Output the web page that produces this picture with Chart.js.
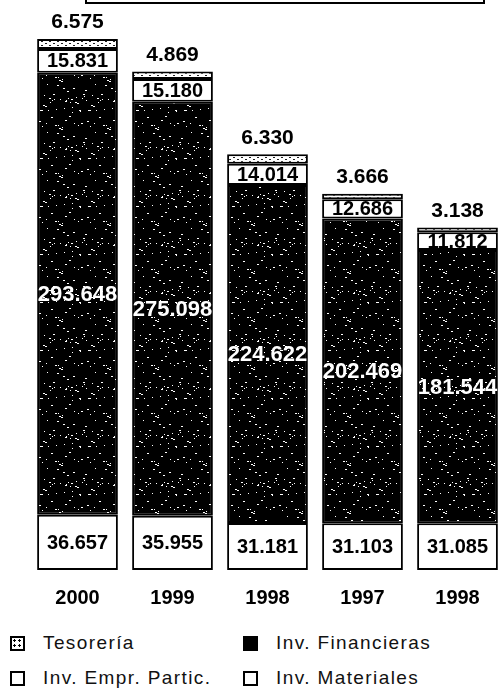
<!DOCTYPE html>
<html>
<head>
<meta charset="utf-8">
<script src="https://cdn.jsdelivr.net/npm/chart.js@4/dist/chart.umd.min.js"></script>
<style>
  body { margin: 0; background: #fff; overflow: hidden; width: 498px; height: 690px; position: relative; }
  #marco { position: absolute; left: 85px; top: -12px; width: 396px; height: 12px; border: 2px solid #000; }
  #grafico { position: absolute; left: 0; top: 0; }
  .leyenda { position: absolute; font-family: 'Liberation Sans', Arial, sans-serif; font-size: 19px; letter-spacing: 1.4px; color: #111; line-height: 20px; }
  .caja { position: absolute; width: 11px; height: 11px; border: 2px solid #000; background: #fff; }
</style>
</head>
<body>
<div id="marco"></div>
<canvas id="grafico" width="510" height="618"></canvas>
<div id="leyendas"></div>
<script>
// valores en miles
var anios = ['2000', '1999', '1998', '1997', '1998'];
var tesoreria = [6575, 4869, 6330, 3666, 3138];
var invEmprPartic = [15831, 15180, 14014, 12686, 11812];
var invFinancieras = [293648, 275098, 224622, 202469, 181544];
var invMateriales = [36657, 35955, 31181, 31103, 31085];

function formatear(v) {
    return String(v).replace(/\B(?=(\d{3})+(?!\d))/g, '.');
}

// trama punteada para tesoreria
function tramaTesoreria() {
    var c = document.createElement('canvas');
    c.width = 8; c.height = 4;
    var x = c.getContext('2d');
    x.fillStyle = '#fff'; x.fillRect(0, 0, 8, 4);
    x.fillStyle = '#222';
    x.fillRect(1, 1, 2, 1);
    x.fillRect(5, 3, 2, 1);
    return x.createPattern(c, 'repeat');
}

// negro con motas blancas (fotocopia)
function tramaFinancieras() {
    var c = document.createElement('canvas');
    c.width = 48; c.height = 48;
    var x = c.getContext('2d');
    x.fillStyle = '#000'; x.fillRect(0, 0, 48, 48);
    x.fillStyle = '#fff';
    var s = 7;
    for (var i = 0; i < 50; i++) {
        s = (s * 73 + 41) % 2304;
        var px = s % 48, py = Math.floor(s / 48);
        x.fillRect(px, py, 1 + (i % 2), 1);
    }
    return x.createPattern(c, 'repeat');
}

var estilosEtiqueta = [
    { font: 'bold 20px "Liberation Sans"', color: '#000', pos: 'centro' },
    { font: 'bold 22px "Liberation Sans"', color: '#fff', pos: 'centro' },
    { font: 'bold 20px "Liberation Sans"', color: '#000', pos: 'centro' },
    { font: 'bold 21px "Liberation Sans"', color: '#000', pos: 'arriba' }
];

var etiquetas = {
    id: 'etiquetas',
    afterDatasetsDraw: function (chart) {
        var ctx = chart.ctx;
        ctx.save();
        ctx.textAlign = 'center';
        chart.data.datasets.forEach(function (ds, i) {
            var est = estilosEtiqueta[i];
            chart.getDatasetMeta(i).data.forEach(function (bar, j) {
                var p = bar.getProps(['x', 'y', 'base'], true);
                ctx.font = est.font;
                ctx.fillStyle = est.color;
                if (est.pos == 'arriba') {
                    ctx.textBaseline = 'bottom';
                    ctx.fillText(formatear(ds.data[j]), p.x, p.y - 6);
                } else {
                    ctx.textBaseline = 'middle';
                    ctx.fillText(formatear(ds.data[j]), p.x, (p.y + p.base) / 2 + 1);
                }
            });
        });
        ctx.restore();
    }
};

var grafico = new Chart(document.getElementById('grafico'), {
    type: 'bar',
    data: {
        labels: anios,
        datasets: [
            { label: 'Inv. Materiales', data: invMateriales, backgroundColor: '#fff' },
            { label: 'Inv. Financieras', data: invFinancieras, backgroundColor: tramaFinancieras() },
            { label: 'Inv. Empr. Partic.', data: invEmprPartic, backgroundColor: '#fff' },
            { label: 'Tesorería', data: tesoreria, backgroundColor: tramaTesoreria() }
        ]
    },
    options: {
        responsive: false,
        animation: false,
        devicePixelRatio: 1,
        layout: { padding: { left: 30, right: 5, top: 10, bottom: 0 } },
        datasets: {
            bar: {
                borderColor: '#000',
                borderWidth: 2,
                borderSkipped: false,
                barPercentage: 0.85,
                categoryPercentage: 1
            }
        },
        plugins: {
            legend: { display: false },
            tooltip: { enabled: false }
        },
        scales: {
            x: {
                stacked: true,
                grid: { display: false },
                border: { display: false },
                ticks: {
                    color: '#000',
                    padding: 8,
                    font: { family: 'Liberation Sans', size: 20, weight: 'bold' }
                }
            },
            y: {
                stacked: true,
                display: false,
                min: 0,
                max: 372000
            }
        }
    },
    plugins: [etiquetas]
});

// leyenda en dos columnas
var itemsLeyenda = [
    { texto: 'Tesorería', x: 10, y: 643, fondo: 'punteado' },
    { texto: 'Inv. Financieras', x: 243, y: 643, fondo: '#000' },
    { texto: 'Inv. Empr. Partic.', x: 10, y: 678, fondo: '#fff' },
    { texto: 'Inv. Materiales', x: 243, y: 678, fondo: '#fff' }
];
var cont = document.getElementById('leyendas');
itemsLeyenda.forEach(function (it) {
    var caja = document.createElement('div');
    caja.className = 'caja';
    caja.style.left = it.x + 'px';
    caja.style.top = (it.y - 7) + 'px';
    if (it.fondo == 'punteado') {
        caja.style.background = 'radial-gradient(circle, #000 1px, #fff 1.2px) 0 0 / 5px 5px';
    } else {
        caja.style.background = it.fondo;
    }
    cont.appendChild(caja);
    var t = document.createElement('div');
    t.className = 'leyenda';
    t.style.left = (it.x + 33) + 'px';
    t.style.top = (it.y - 10) + 'px';
    t.innerText = it.texto;
    cont.appendChild(t);
});
</script>
</body>
</html>
